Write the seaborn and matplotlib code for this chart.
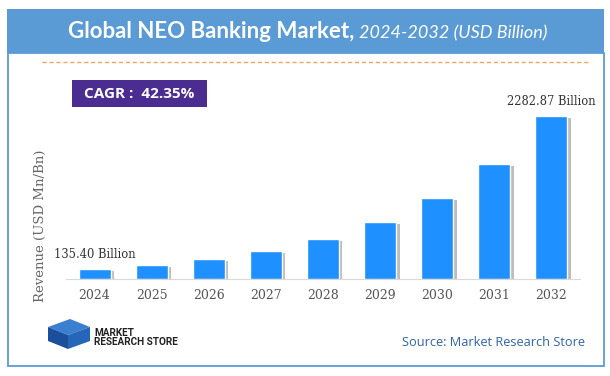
import matplotlib
matplotlib.use("Agg")
import matplotlib.pyplot as plt
import matplotlib.patheffects as pe
from matplotlib.patches import Rectangle, Polygon
from matplotlib.lines import Line2D
import seaborn as sns
import pandas as pd

years = ["2024", "2025", "2026", "2027", "2028", "2029", "2030", "2031", "2032"]
revenue = [135.40, 192.7, 274.4, 390.6, 556.0, 791.5, 1126.7, 1603.9, 2282.87]
first_label = "135.40 Billion"
last_label = "2282.87 Billion"

df = pd.DataFrame({"year": years, "revenue": revenue})

sns.set_style("white")
W, H = 610, 376
fig = plt.figure(figsize=(W / 100, H / 100), dpi=100)

def fx(px):
    return px / W

def fy(py):
    return 1 - py / H

# frame and header band
fig.patches.append(Rectangle((fx(7.5), fy(366)), fx(596), fy(53) - fy(366), transform=fig.transFigure,
                             facecolor="white", edgecolor="#5B9BD5", lw=1.3, zorder=-2))
fig.patches.append(Rectangle((fx(7), fy(53)), fx(597), fy(9) - fy(53), transform=fig.transFigure,
                             facecolor="#5B9BD5", edgecolor="none", zorder=1))
fig.lines.append(Line2D([fx(42), fx(590)], [fy(62), fy(62)], transform=fig.transFigure,
                        color="#F4A460", lw=1.0, ls=(0, (3, 2))))

fig.text(fx(354), fy(32), "Global NEO Banking Market,", ha="right", va="center",
         color="white", fontsize=16, fontweight="bold", family="Lato")
fig.text(fx(359), fy(33), "2024-2032 (USD Billion)", ha="left", va="center",
         color="white", fontsize=13, style="italic", family="Lato")

# CAGR box
fig.patches.append(Rectangle((fx(72), fy(107)), fx(135), fy(80) - fy(107), transform=fig.transFigure,
                             facecolor="#4B2C91", edgecolor="none", zorder=2))
fig.text(fx(139), fy(94), "CAGR :  42.35%", ha="center", va="center", color="white",
         fontsize=11, fontweight="bold", family="Open Sans", zorder=3)

# main axes
ax = fig.add_axes([fx(66), fy(279), fx(514), fy(100) - fy(279)])
ax.set_zorder(5)
sns.barplot(data=df, x="year", y="revenue", color="#1E90FF", width=0.56, saturation=1, ax=ax)
for bar in ax.patches:
    bar.set_path_effects([pe.SimplePatchShadow(offset=(2.5, -1.5), shadow_rgbFace="#888888", alpha=0.55),
                          pe.Normal()])
ax.set_xlim(-0.5, 8.5)
ax.set_ylim(0, 2500)
ax.set_yticks([])
ax.set_xlabel("")
ax.set_ylabel("")
for s in ["top", "left", "right"]:
    ax.spines[s].set_visible(False)
ax.spines["bottom"].set_color("#D9D9D9")
ax.tick_params(axis="x", length=0, pad=7, labelsize=9, labelcolor="#555555")
for t in ax.get_xticklabels():
    t.set_family("DejaVu Serif")
ax.patch.set_alpha(0)

ax.text(0, revenue[0] + 120, first_label, ha="center", va="bottom", fontsize=8.3,
        family="DejaVu Serif", color="#333333")
ax.text(8, revenue[-1] + 110, last_label, ha="center", va="bottom", fontsize=8.3,
        family="DejaVu Serif", color="#333333")

fig.text(fx(40), fy(226), "Revenue (USD Mn/Bn)", rotation=90, ha="center", va="center",
         fontsize=9.5, family="DejaVu Serif", color="#666666")

# logo
fig.patches.append(Polygon([(fx(48), fy(327)), (fx(70), fy(319)), (fx(90), fy(327)), (fx(68), fy(335))],
                           closed=True, transform=fig.transFigure, facecolor="#3A7FD0", edgecolor="none"))
fig.patches.append(Polygon([(fx(48), fy(327)), (fx(68), fy(335)), (fx(68), fy(349)), (fx(48), fy(341))],
                           closed=True, transform=fig.transFigure, facecolor="#1B4F9C", edgecolor="none"))
fig.patches.append(Polygon([(fx(68), fy(335)), (fx(90), fy(327)), (fx(90), fy(341)), (fx(68), fy(349))],
                           closed=True, transform=fig.transFigure, facecolor="#2566B8", edgecolor="none"))
fig.text(fx(94), fy(333), "MARKET", ha="left", va="center", fontsize=7.2, fontweight="bold",
         color="#222222", family="Roboto")
fig.text(fx(94), fy(342), "RESEARCH STORE", ha="left", va="center", fontsize=7.2, fontweight="bold",
         color="#222222", family="Roboto")

fig.text(fx(585), fy(343), "Source: Market Research Store", ha="right", va="center",
         fontsize=9.2, color="#2E64A8", family="Open Sans")

fig.savefig("out.png", dpi=100)
